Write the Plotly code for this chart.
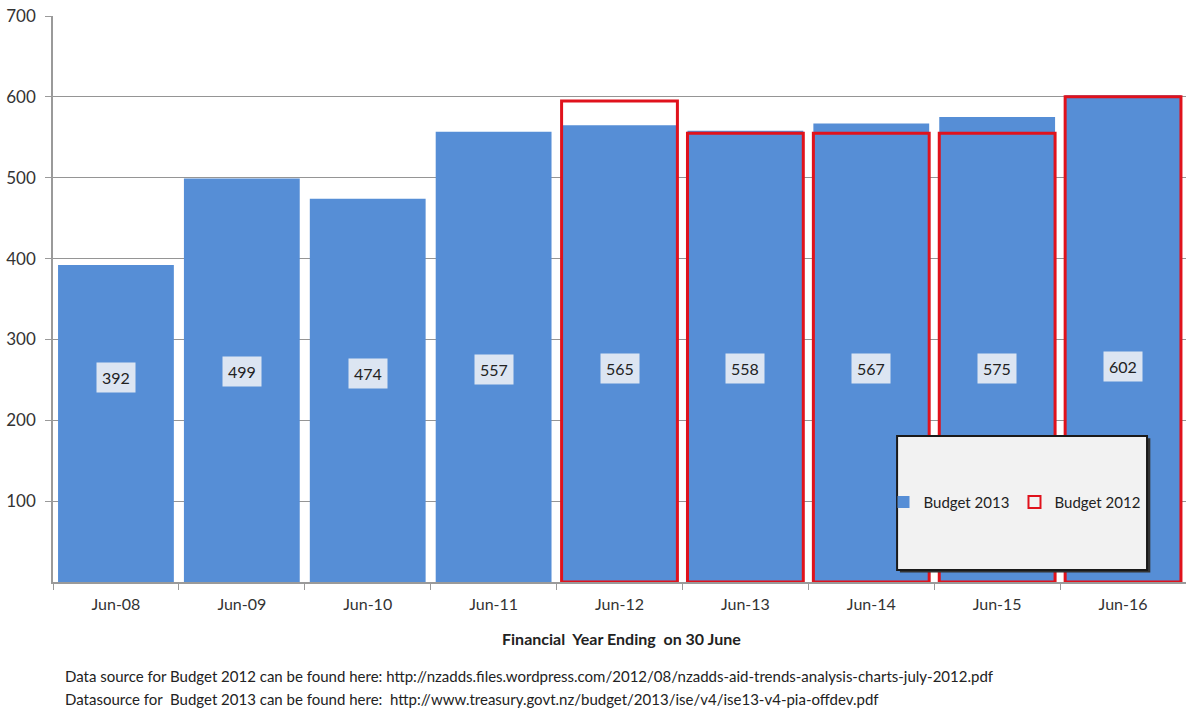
import plotly.graph_objects as go

categories = ["Jun-08", "Jun-09", "Jun-10", "Jun-11", "Jun-12", "Jun-13", "Jun-14", "Jun-15", "Jun-16"]
budget_2013 = [392, 499, 474, 557, 565, 558, 567, 575, 602]
budget_2012 = [None, None, None, None, 595, 555, 555, 555, 600]
y_ticks = [100, 200, 300, 400, 500, 600, 700]

FONT = "Lato"
BLUE = "#568ED6"
RED = "#E0121C"

fig = go.Figure()
fig.add_trace(go.Bar(
    x=categories, y=budget_2013, name="Budget 2013",
    marker=dict(color=BLUE, line=dict(width=0)), width=0.92,
))
fig.add_trace(go.Bar(
    x=categories, y=budget_2012, name="Budget 2012",
    marker=dict(color="rgba(0,0,0,0)", line=dict(color=RED, width=3)), width=0.92,
))

annotations = []
for c, v in zip(categories, budget_2013):
    annotations.append(dict(
        x=c, y=230 + 0.06 * v, xref="x", yref="y", text=str(v), showarrow=False,
        bgcolor="#DCE5F2", borderpad=5, font=dict(family=FONT, size=16, color="#222222"),
    ))

annotations.append(dict(
    x=0.502, y=-0.099, xref="paper", yref="paper", text="<b>Financial  Year Ending  on 30 June</b>",
    showarrow=False, font=dict(family=FONT, size=16, color="#222222"), xanchor="center", yanchor="middle",
))
annotations.append(dict(
    x=0.009, y=-0.166, xref="paper", yref="paper",
    text="Data source for Budget 2012 can be found here: http://nzadds.files.wordpress.com/2012/08/nzadds-aid-trends-analysis-charts-july-2012.pdf",
    showarrow=False, font=dict(family=FONT, size=15, color="#222222"), xanchor="left", yanchor="middle",
))
annotations.append(dict(
    x=0.009, y=-0.207, xref="paper", yref="paper",
    text="Datasource for  Budget 2013 can be found here:  http://www.treasury.govt.nz/budget/2013/ise/v4/ise13-v4-pia-offdev.pdf",
    showarrow=False, font=dict(family=FONT, size=15, color="#222222"), xanchor="left", yanchor="middle",
))

shapes = [
    dict(type="rect", xref="paper", yref="paper", x0=0.7475, x1=0.9685, y0=0.017, y1=0.254,
         fillcolor="#333333", line=dict(width=0), layer="above"),
    dict(type="rect", xref="paper", yref="paper", x0=0.745, x1=0.9656, y0=0.0212, y1=0.258,
         fillcolor="#F2F2F2", line=dict(color="#1A1A1A", width=2), layer="above"),
]

fig.update_layout(
    width=1186, height=709,
    margin=dict(l=53, r=0, t=16, b=127),
    paper_bgcolor="white", plot_bgcolor="white",
    barmode="overlay", bargap=0.08,
    font=dict(family=FONT, size=15, color="#333333"),
    showlegend=True,
    legend=dict(orientation="h", x=0.733, y=0.141, xanchor="left", yanchor="middle",
                bgcolor="rgba(0,0,0,0)", font=dict(family=FONT, size=15, color="#222222"),
                itemsizing="constant", traceorder="normal", entrywidth=86, entrywidthmode="pixels",
                itemwidth=30),
    annotations=annotations,
    shapes=shapes,
)
fig.update_xaxes(
    type="category", showgrid=False, showline=True, linecolor="#9A9A9A", linewidth=1.5,
    ticks="outside", tickson="boundaries", ticklen=6, tickcolor="#9A9A9A", ticklabelstandoff=7,
    tickfont=dict(family=FONT, size=16, color="#333333"), range=[-0.5, 8.5],
)
fig.update_yaxes(
    range=[0, 700], tickvals=y_ticks, showgrid=True, gridcolor="#959595", gridwidth=1.2,
    showline=True, linecolor="#9A9A9A", linewidth=1.5, ticks="outside", ticklen=6,
    tickcolor="#9A9A9A", zeroline=False, ticklabelstandoff=6,
    tickfont=dict(family=FONT, size=17, color="#333333"),
)

fig.write_html("out.html")
